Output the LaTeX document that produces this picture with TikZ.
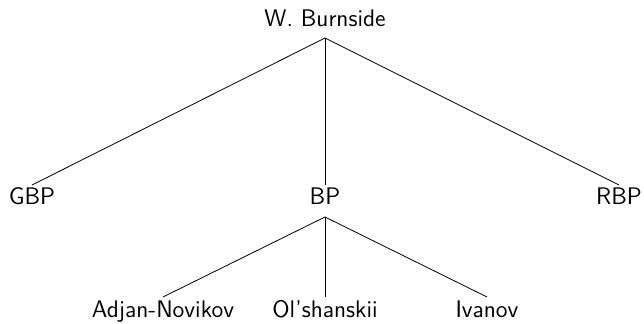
\documentclass[tikz,border=0pt]{standalone}
\begin{document}
\begin{tikzpicture}[x=0.5pt,y=-0.5pt,
  lbl/.style={anchor=base,inner sep=0pt,font=\sffamily\fontsize{12}{14}\selectfont},
  edge/.style={draw=black,line width=0.4pt}]
\useasboundingbox (0,0) rectangle (644,324);
% nodes
\node[lbl] (wb) at (325,27) {W. Burnside};
\node[lbl] (gbp) at (32,205) {GBP};
\node[lbl] (bp) at (325,205) {BP};
\node[lbl] (rbp) at (619,205) {RBP};
\node[lbl] (an) at (163,318) {Adjan-Novikov};
\node[lbl] (ol) at (325,318) {Ol'shanskii};
\node[lbl] (iv) at (487,318) {Ivanov};
% connector ends
\coordinate (wbs) at (325,38);
\coordinate (bps) at (325,217);
\coordinate (gbpn) at (32,185);
\coordinate (bpn) at (325,185);
\coordinate (rbpn) at (619,185);
\coordinate (ann) at (163,297);
\coordinate (oln) at (325,297);
\coordinate (ivn) at (487,297);
% connectors
\draw[edge] (wbs) -- (gbpn);
\draw[edge] (wbs) -- (bpn);
\draw[edge] (wbs) -- (rbpn);
\draw[edge] (bps) -- (ann);
\draw[edge] (bps) -- (oln);
\draw[edge] (bps) -- (ivn);
\end{tikzpicture}
\end{document}
